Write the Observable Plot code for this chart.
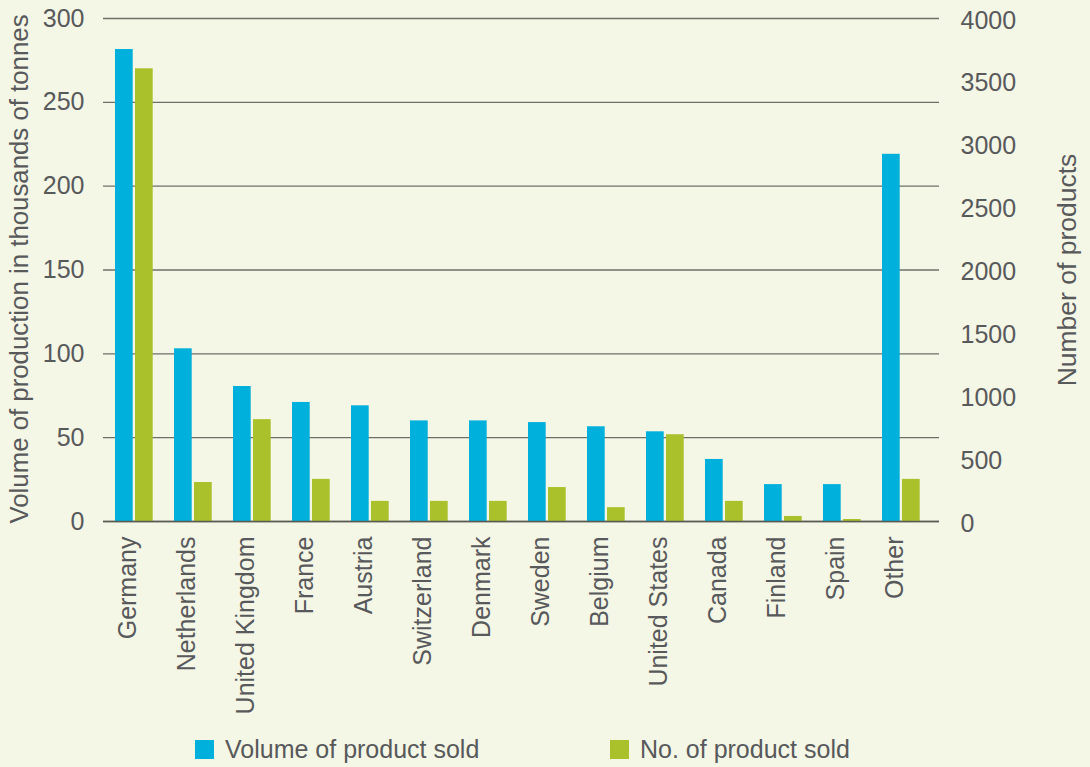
<!DOCTYPE html>
<html>
<head>
<meta charset="utf-8">
<script src="https://cdn.jsdelivr.net/npm/d3@7"></script>
<script src="https://cdn.jsdelivr.net/npm/@observablehq/plot@0.6"></script>
<style>
  html, body { margin: 0; padding: 0; background: #f4f6e6; }
  #wrap { position: relative; width: 1090px; height: 767px; background: #f4f6e6; font-family: "Liberation Sans", Arial, sans-serif; color: #58595b; }
  #legend { position: absolute; left: 0; top: 725px; width: 1090px; height: 42px; }
  .item { position: absolute; top: 12px; display: flex; align-items: center; font-size: 25px; line-height: 1; }
  .sw { width: 19px; height: 19px; margin-right: 11px; }
</style>
</head>
<body>
<div id="wrap">
  <div id="chart"></div>
  <div id="legend"></div>
</div>
<script>
const countries = ["Germany", "Netherlands", "United Kingdom", "France", "Austria", "Switzerland", "Denmark", "Sweden", "Belgium", "United States", "Canada", "Finland", "Spain", "Other"];
const volumeSold = [281.5, 103, 80.5, 71, 69, 60, 60, 59, 56.5, 53.5, 37, 22, 22, 219];
const numberSold = [3600, 310, 810, 335, 160, 160, 160, 270, 110, 690, 160, 40, 16, 335];
const leftTicks = [0, 50, 100, 150, 200, 250, 300];
const rightTicks = [0, 500, 1000, 1500, 2000, 2500, 3000, 3500, 4000];
const seriesNames = ["Volume of product sold", "No. of product sold"];
const seriesColors = ["#00b0dc", "#abc12c"];
const leftTitle = "Volume of production in thousands of tonnes";
const rightTitle = "Number of products";

const leftMax = 300, rightMax = 4000;
const toLeft = v => v * leftMax / rightMax;

const volumeRows = countries.map((c, i) => ({country: c, value: volumeSold[i]}));
const numberRows = countries.map((c, i) => ({country: c, value: toLeft(numberSold[i])}));

const textColor = "#58595b";
const chart = Plot.plot({
  width: 1090,
  height: 725,
  marginTop: 18,
  marginBottom: 204,
  marginLeft: 103,
  marginRight: 151,
  style: {background: "#f4f6e6", color: textColor, fontFamily: "'Liberation Sans', Arial, sans-serif", fontSize: "25px"},
  x: {domain: countries, range: [103, 933.3], padding: 0},
  y: {domain: [0, leftMax]},
  marks: [
    Plot.ruleY(leftTicks, {y: d => d, stroke: "#6e7068", strokeWidth: 1.4}),
    Plot.barY(volumeRows, {x: "country", y: "value", fill: seriesColors[0], insetLeft: 10, insetRight: 31.3}),
    Plot.barY(numberRows, {x: "country", y: "value", fill: seriesColors[1], insetLeft: 30, insetRight: 11.3}),
    Plot.ruleY([0], {stroke: "#5a5b55", strokeWidth: 1.6}),
    Plot.axisY(leftTicks, {anchor: "left", tickSize: 0, tickPadding: 19, label: null, fill: textColor}),
    Plot.axisY(rightTicks.map(toLeft), {anchor: "right", tickSize: 0, tickPadding: 21, textAnchor: "start", label: null, fill: textColor, dy: 2,
      tickFormat: d => String(Math.round(d * rightMax / leftMax))}),
    Plot.axisX({tickRotate: -90, tickSize: 0, tickPadding: 15, label: null, fill: textColor, dx: -7}),
    Plot.text([leftTitle], {text: d => d, frameAnchor: "left", dx: -84, dy: -1, rotate: -90, textAnchor: "middle", lineAnchor: "middle", fill: textColor, fontSize: 25.8}),
    Plot.text([rightTitle], {text: d => d, frameAnchor: "right", dx: 128, rotate: -90, textAnchor: "middle", lineAnchor: "middle", fill: textColor, fontSize: 26.5})
  ]
});
document.getElementById("chart").appendChild(chart);

const legend = document.getElementById("legend");
const legendLeft = [195, 610];
seriesNames.forEach((name, i) => {
  const item = document.createElement("div");
  item.className = "item";
  item.style.left = legendLeft[i] + "px";
  const sw = document.createElement("span");
  sw.className = "sw";
  sw.style.background = seriesColors[i];
  const label = document.createElement("span");
  label.textContent = name;
  item.appendChild(sw);
  item.appendChild(label);
  legend.appendChild(item);
});
</script>
</body>
</html>
